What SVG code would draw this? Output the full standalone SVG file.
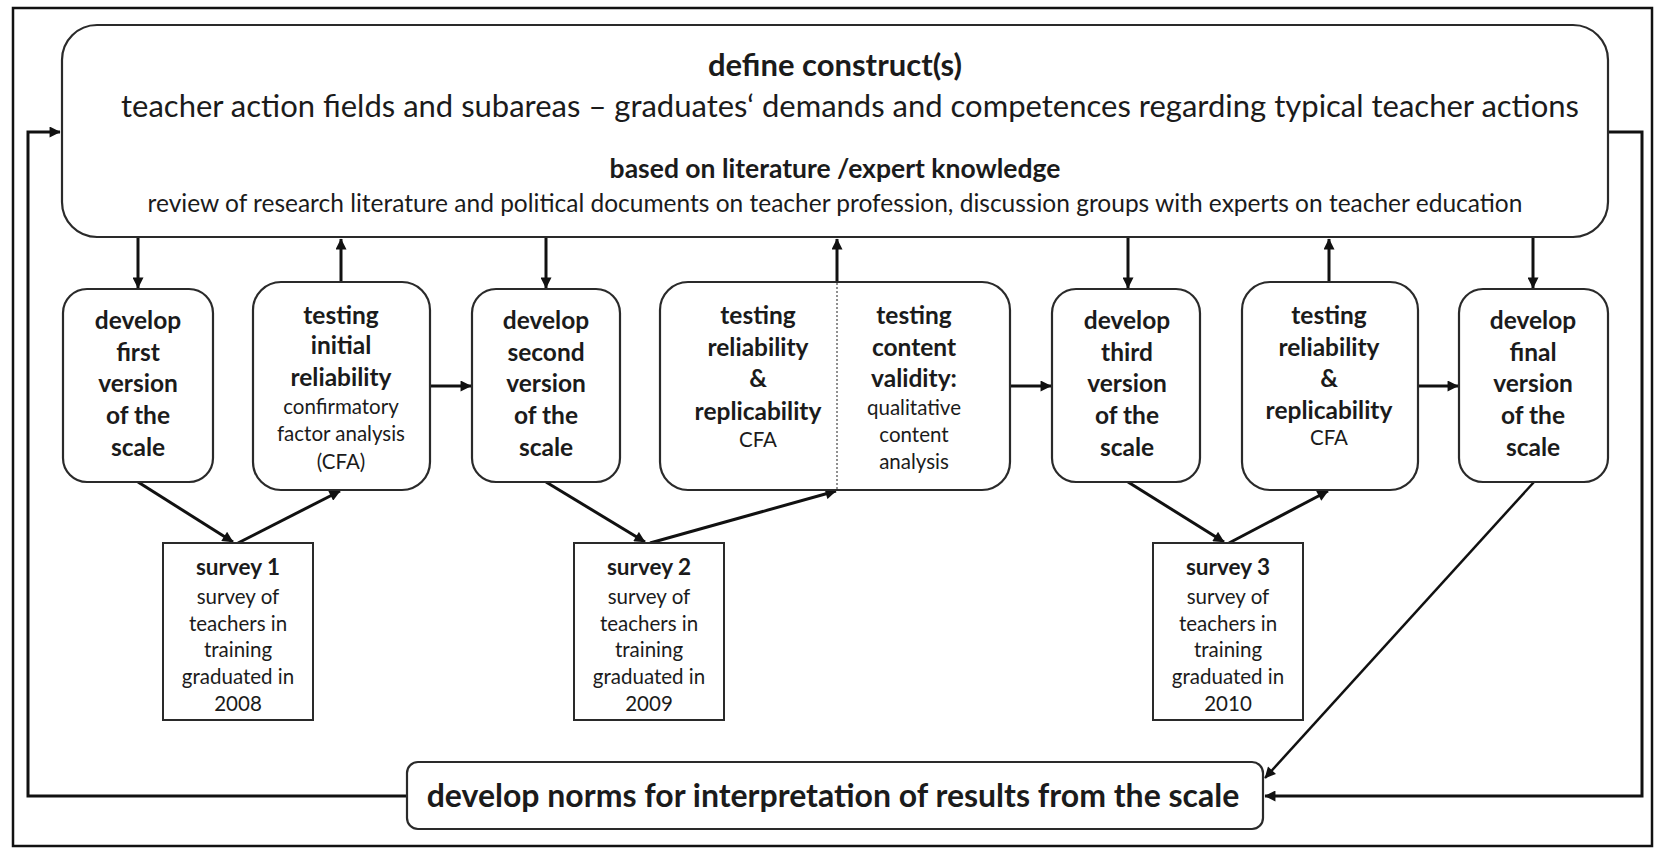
<svg xmlns="http://www.w3.org/2000/svg" width="1657" height="850" viewBox="0 0 1657 850">
<style>
text{font-family:Lato,"Liberation Sans",sans-serif;fill:#1b1b1b;text-anchor:middle}
.b{font-weight:bold}
.box{fill:#fff;stroke:#2a2a2a;stroke-width:2.2}
.n{font-size:24.5px;font-weight:bold}
.s{font-size:20.5px}
.sv{font-size:20.5px}
.svb{font-size:22.5px;font-weight:bold}
.c{fill:none;stroke:#111;stroke-width:3}
</style>
<defs>
<marker id="ah" viewBox="0 0 10 10" refX="9.5" refY="5" markerWidth="12" markerHeight="11" markerUnits="userSpaceOnUse" orient="auto"><path d="M0,0 L10,5 L0,10 z" fill="#111"/></marker>
</defs>
<rect x="0" y="0" width="1657" height="850" fill="#fff"/>
<rect x="13" y="8" width="1639" height="838" fill="none" stroke="#111" stroke-width="2.5"/>

<g id="connectors">
<path class="c" d="M407,796 H28 V132 H60" marker-end="url(#ah)"/>
<path class="c" d="M1608,132 H1642 V796 H1265" marker-end="url(#ah)"/>
<line class="c" x1="138" y1="237" x2="138" y2="288" marker-end="url(#ah)"/>
<line class="c" x1="341" y1="282" x2="341" y2="239" marker-end="url(#ah)"/>
<line class="c" x1="546" y1="237" x2="546" y2="288" marker-end="url(#ah)"/>
<line class="c" x1="837" y1="282" x2="837" y2="239" marker-end="url(#ah)"/>
<line class="c" x1="1128" y1="237" x2="1128" y2="288" marker-end="url(#ah)"/>
<line class="c" x1="1329" y1="282" x2="1329" y2="239" marker-end="url(#ah)"/>
<line class="c" x1="1533" y1="237" x2="1533" y2="288" marker-end="url(#ah)"/>
<line class="c" x1="430" y1="386" x2="471" y2="386" marker-end="url(#ah)"/>
<line class="c" x1="1010" y1="386" x2="1051" y2="386" marker-end="url(#ah)"/>
<line class="c" x1="1418" y1="386" x2="1458" y2="386" marker-end="url(#ah)"/>
<line class="c" x1="138" y1="482" x2="233" y2="542" marker-end="url(#ah)"/>
<line class="c" x1="238" y1="543" x2="340" y2="491" marker-end="url(#ah)"/>
<line class="c" x1="546" y1="482" x2="645" y2="542" marker-end="url(#ah)"/>
<line class="c" x1="650" y1="543" x2="836" y2="491" marker-end="url(#ah)"/>
<line class="c" x1="1128" y1="482" x2="1224" y2="542" marker-end="url(#ah)"/>
<line class="c" x1="1229" y1="543" x2="1328" y2="491" marker-end="url(#ah)"/>
<line class="c" x1="1534" y1="482" x2="1265" y2="778" marker-end="url(#ah)" style="stroke-width:2.5"/>
</g>

<g id="define">
<rect class="box" x="62" y="25" width="1546" height="212" rx="35"/>
<text x="835" y="76" class="b" style="font-size:31px">define construct(s)</text>
<text x="850" y="117" style="font-size:31px">teacher action fields and subareas – graduates‘ demands and competences regarding typical teacher actions</text>
<text x="835" y="178" class="b" style="font-size:26.5px">based on literature /expert knowledge</text>
<text x="835" y="212" style="font-size:24.5px">review of research literature and political documents on teacher profession, discussion groups with experts on teacher education</text>
</g>

<g id="devFirst">
<rect class="box" x="63" y="289" width="150" height="193" rx="24"/>
<text class="n" x="138"><tspan x="138" y="329">develop</tspan><tspan x="138" y="361">first</tspan><tspan x="138" y="392">version</tspan><tspan x="138" y="424">of the</tspan><tspan x="138" y="456">scale</tspan></text>
</g>

<g id="testInitial">
<rect class="box" x="253" y="282" width="177" height="208" rx="28"/>
<text class="n" x="341"><tspan x="341" y="324">testing</tspan><tspan x="341" y="354">initial</tspan><tspan x="341" y="386">reliability</tspan></text>
<text class="s" x="341"><tspan x="341" y="414">confirmatory</tspan><tspan x="341" y="441">factor analysis</tspan><tspan x="341" y="469">(CFA)</tspan></text>
</g>

<g id="devSecond">
<rect class="box" x="472" y="289" width="148" height="193" rx="24"/>
<text class="n" x="546"><tspan x="546" y="329">develop</tspan><tspan x="546" y="361">second</tspan><tspan x="546" y="392">version</tspan><tspan x="546" y="424">of the</tspan><tspan x="546" y="456">scale</tspan></text>
</g>

<g id="testRelContent">
<rect class="box" x="660" y="282" width="350" height="208" rx="28"/>
<line x1="837" y1="283" x2="837" y2="489" stroke="#555" stroke-width="1.3" stroke-dasharray="2,2"/>
<text class="n" x="758"><tspan x="758" y="324">testing</tspan><tspan x="758" y="356">reliability</tspan><tspan x="758" y="387">&amp;</tspan><tspan x="758" y="420">replicability</tspan></text>
<text class="s" x="758" y="447">CFA</text>
<text class="n" x="914"><tspan x="914" y="324">testing</tspan><tspan x="914" y="356">content</tspan><tspan x="914" y="387">validity:</tspan></text>
<text class="s" x="914"><tspan x="914" y="415">qualitative</tspan><tspan x="914" y="442">content</tspan><tspan x="914" y="469">analysis</tspan></text>
</g>

<g id="devThird">
<rect class="box" x="1052" y="289" width="148" height="193" rx="24"/>
<text class="n" x="1127"><tspan x="1127" y="329">develop</tspan><tspan x="1127" y="361">third</tspan><tspan x="1127" y="392">version</tspan><tspan x="1127" y="424">of the</tspan><tspan x="1127" y="456">scale</tspan></text>
</g>

<g id="testRel">
<rect class="box" x="1242" y="282" width="176" height="208" rx="28"/>
<text class="n" x="1329"><tspan x="1329" y="324">testing</tspan><tspan x="1329" y="356">reliability</tspan><tspan x="1329" y="387">&amp;</tspan><tspan x="1329" y="419">replicability</tspan></text>
<text class="s" x="1329" y="445">CFA</text>
</g>

<g id="devFinal">
<rect class="box" x="1459" y="289" width="149" height="193" rx="24"/>
<text class="n" x="1533"><tspan x="1533" y="329">develop</tspan><tspan x="1533" y="361">final</tspan><tspan x="1533" y="392">version</tspan><tspan x="1533" y="424">of the</tspan><tspan x="1533" y="456">scale</tspan></text>
</g>

<g id="survey1">
<rect x="163" y="543" width="150" height="177" fill="#fff" stroke="#2a2a2a" stroke-width="2"/>
<text class="svb" x="238" y="575">survey 1</text>
<text class="sv" x="238"><tspan x="238" y="604">survey of</tspan><tspan x="238" y="631">teachers in</tspan><tspan x="238" y="657">training</tspan><tspan x="238" y="684">graduated in</tspan><tspan x="238" y="711">2008</tspan></text>
</g>

<g id="survey2">
<rect x="574" y="543" width="150" height="177" fill="#fff" stroke="#2a2a2a" stroke-width="2"/>
<text class="svb" x="649" y="575">survey 2</text>
<text class="sv" x="649"><tspan x="649" y="604">survey of</tspan><tspan x="649" y="631">teachers in</tspan><tspan x="649" y="657">training</tspan><tspan x="649" y="684">graduated in</tspan><tspan x="649" y="711">2009</tspan></text>
</g>

<g id="survey3">
<rect x="1153" y="543" width="150" height="177" fill="#fff" stroke="#2a2a2a" stroke-width="2"/>
<text class="svb" x="1228" y="575">survey 3</text>
<text class="sv" x="1228"><tspan x="1228" y="604">survey of</tspan><tspan x="1228" y="631">teachers in</tspan><tspan x="1228" y="657">training</tspan><tspan x="1228" y="684">graduated in</tspan><tspan x="1228" y="711">2010</tspan></text>
</g>

<g id="norms">
<rect class="box" x="407" y="762" width="856" height="67" rx="11"/>
<text class="b" x="833" y="807" style="font-size:32px">develop norms for interpretation of results from the scale</text>
</g>
</svg>
